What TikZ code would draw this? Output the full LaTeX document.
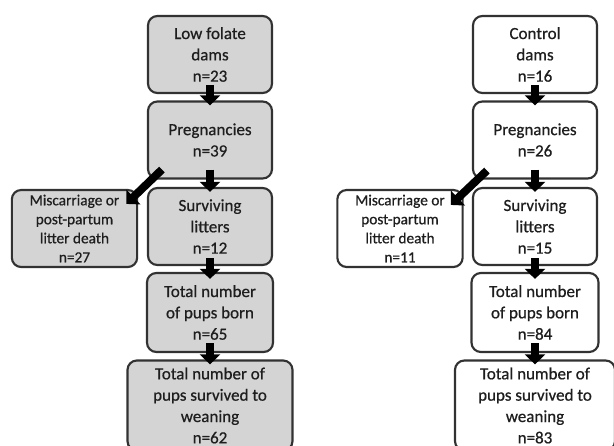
\documentclass[tikz,border=0pt]{standalone}
\usepackage{fontspec}
\setmainfont{Carlito}
\newfontfamily\boxfont{Carlito}[FakeBold=0.6]
\usetikzlibrary{arrows.meta}
\definecolor{boxgray}{RGB}{212,212,212}
\definecolor{boxline}{RGB}{50,50,50}
\definecolor{boxtext}{RGB}{30,30,30}

\begin{document}
\begin{tikzpicture}[x=0.75pt, y=-0.75pt,
	box/.style={draw=boxline, line width=1.6pt, rounded corners=7pt, align=center, inner sep=0pt,
		minimum width=93pt, minimum height=57.75pt, text=boxtext, font=\boxfont\fontsize{12.75}{16}\selectfont},
	lowbox/.style={box, fill=boxgray},
	ctrlbox/.style={box, fill=white},
	lossbox/.style={minimum width=94pt, font=\boxfont\fontsize{11.5}{14.25}\selectfont},
	weanbox/.style={minimum height=67.5pt},
	flowarrow/.style={draw=black, line width=6pt, -{Triangle[width=15pt,length=7.5pt]}}]
		%%%%% FRAME %%%%%
		\clip (0, 0) rectangle (614, 446);
		
		%%%%% LOW FOLATE %%%%%
		\node[lowbox] (lowdams) at (210, 54.5) {Low folate\\dams\\n=23};
		\node[lowbox] (lowpreg) at (210, 140) {Pregnancies\\n=39};
		\node[lowbox] (lowsurv) at (210, 226.5) {Surviving\\litters\\n=12};
		\node[lowbox, lossbox] (lowmisc) at (74.5, 228.5) {Miscarriage or\\post-partum\\litter death\\n=27};
		\node[lowbox, minimum width=94.5pt, minimum height=59.25pt] (lowborn) at (210, 312.5) {Total number\\of pups born\\n=65};
		\node[lowbox, weanbox, minimum width=123.75pt] (lowwean) at (210, 405.5) {Total number of\\pups survived to\\weaning\\n=62};
		
		\draw[flowarrow] ([yshift=6.75pt]lowdams.south) -- ([yshift=-3.75pt]lowpreg.north);
		\draw[flowarrow] ([yshift=7.5pt]lowpreg.south) -- ([yshift=-3.75pt]lowsurv.north);
		\draw[flowarrow] ([yshift=6pt]lowsurv.south) -- ([yshift=-5.25pt]lowborn.north);
		\draw[flowarrow] ([yshift=7.5pt]lowborn.south) -- ([yshift=-3.75pt]lowwean.north);
		\draw[flowarrow] ([shift={(15,-10)}]lowpreg.south west) -- ([shift={(-12,15)}]lowmisc.north east);
		
		%%%%% CONTROL %%%%%
		\node[ctrlbox] (ctrldams) at (535, 54.5) {Control\\dams\\n=16};
		\node[ctrlbox] (ctrlpreg) at (535, 140) {Pregnancies\\n=26};
		\node[ctrlbox] (ctrlsurv) at (535, 226.5) {Surviving\\litters\\n=15};
		\node[ctrlbox, lossbox] (ctrlmisc) at (400, 228.5) {Miscarriage or\\post-partum\\litter death\\n=11};
		\node[ctrlbox, minimum width=95.25pt, minimum height=59.25pt] (ctrlborn) at (535, 312.5) {Total number\\of pups born\\n=84};
		\node[ctrlbox, weanbox, minimum width=120pt] (ctrlwean) at (535, 405.5) {Total number of\\pups survived to\\weaning\\n=83};
		
		\draw[flowarrow] ([yshift=6.75pt]ctrldams.south) -- ([yshift=-3.75pt]ctrlpreg.north);
		\draw[flowarrow] ([yshift=7.5pt]ctrlpreg.south) -- ([yshift=-3.75pt]ctrlsurv.north);
		\draw[flowarrow] ([yshift=6pt]ctrlsurv.south) -- ([yshift=-5.25pt]ctrlborn.north);
		\draw[flowarrow] ([yshift=7.5pt]ctrlborn.south) -- ([yshift=-3.75pt]ctrlwean.north);
		\draw[flowarrow] ([shift={(15,-9)}]ctrlpreg.south west) -- ([shift={(-13,16)}]ctrlmisc.north east);
		%%%%% END %%%%%
	\end{tikzpicture}
\end{document}
